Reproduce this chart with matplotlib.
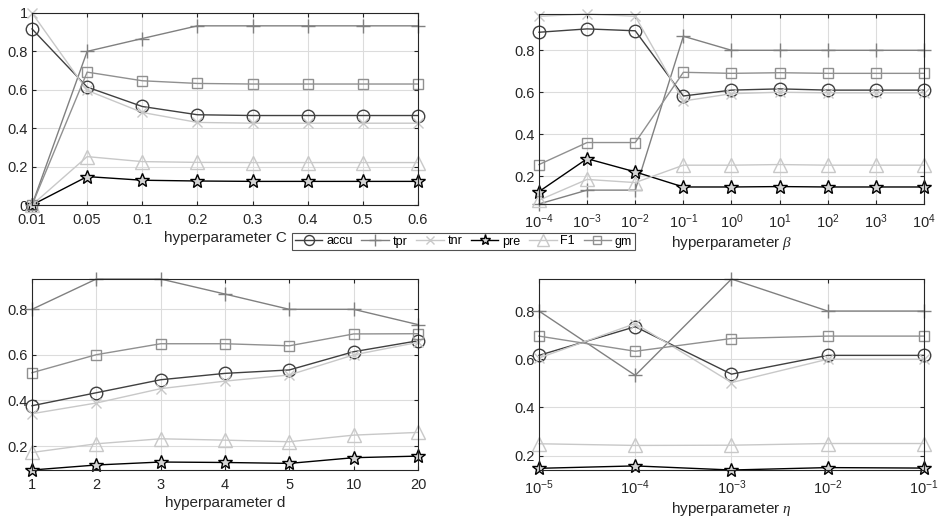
import numpy as np
import matplotlib
matplotlib.use('Agg')
import matplotlib.pyplot as plt

plt.rcParams['font.family'] = ['Liberation Sans', 'DejaVu Sans']
plt.rcParams['mathtext.fontset'] = 'custom'
plt.rcParams['mathtext.rm'] = 'Liberation Sans'
plt.rcParams['mathtext.it'] = 'Liberation Serif:italic'

names = ['accu', 'tpr', 'tnr', 'pre', 'F1', 'gm']

# hyperparameter C
C_labels = ['0.01', '0.05', '0.1', '0.2', '0.3', '0.4', '0.5', '0.6']
C_accu = [0.917, 0.614, 0.513, 0.470, 0.466, 0.466, 0.466, 0.466]
C_tpr = [0.0, 0.800, 0.867, 0.933, 0.933, 0.933, 0.933, 0.933]
C_tnr = [1.0, 0.597, 0.482, 0.430, 0.426, 0.426, 0.426, 0.426]
C_pre = [0.0, 0.148, 0.129, 0.125, 0.123, 0.123, 0.123, 0.123]
C_F1 = [0.0, 0.252, 0.226, 0.222, 0.221, 0.221, 0.221, 0.221]
C_gm = [0.0, 0.692, 0.647, 0.633, 0.630, 0.630, 0.630, 0.630]

# hyperparameter beta
beta = [1e-4, 1e-3, 1e-2, 1e-1, 1e0, 1e1, 1e2, 1e3, 1e4]
b_accu = [0.886, 0.902, 0.893, 0.582, 0.610, 0.616, 0.610, 0.610, 0.610]
b_tpr = [0.067, 0.133, 0.133, 0.867, 0.800, 0.800, 0.800, 0.800, 0.800]
b_tnr = [0.962, 0.973, 0.962, 0.558, 0.593, 0.600, 0.597, 0.597, 0.597]
b_pre = [0.126, 0.283, 0.220, 0.148, 0.148, 0.150, 0.148, 0.148, 0.148]
b_F1 = [0.085, 0.184, 0.169, 0.252, 0.252, 0.255, 0.252, 0.252, 0.252]
b_gm = [0.255, 0.360, 0.360, 0.695, 0.690, 0.693, 0.690, 0.690, 0.690]

# hyperparameter d
d_labels = ['1', '2', '3', '4', '5', '10', '20']
d_accu = [0.377, 0.434, 0.491, 0.519, 0.534, 0.614, 0.662]
d_tpr = [0.800, 0.933, 0.933, 0.867, 0.800, 0.800, 0.733]
d_tnr = [0.342, 0.389, 0.452, 0.485, 0.512, 0.600, 0.655]
d_pre = [0.095, 0.117, 0.130, 0.128, 0.124, 0.149, 0.156]
d_F1 = [0.172, 0.210, 0.232, 0.226, 0.219, 0.248, 0.260]
d_gm = [0.522, 0.601, 0.649, 0.649, 0.640, 0.692, 0.693]

# hyperparameter eta
eta = [1e-5, 1e-4, 1e-3, 1e-2, 1e-1]
e_accu = [0.616, 0.735, 0.538, 0.616, 0.616]
e_tpr = [0.800, 0.533, 0.933, 0.800, 0.800]
e_tnr = [0.605, 0.748, 0.503, 0.600, 0.600]
e_pre = [0.147, 0.157, 0.140, 0.150, 0.148]
e_F1 = [0.249, 0.242, 0.243, 0.250, 0.250]
e_gm = [0.696, 0.633, 0.686, 0.696, 0.696]

styles = [
    dict(color='#404040', marker='o', ms=9, mfc='none'),
    dict(color='#808080', marker='+', ms=10),
    dict(color='#c8c8c8', marker='x', ms=7),
    dict(color='#000000', marker='*', ms=10, mfc='#d4d4d4', mew=1.0),
    dict(color='#c8c8c8', marker='^', ms=10, mfc='none'),
    dict(color='#909090', marker='s', ms=7, mfc='none'),
]

fig = plt.figure(figsize=(9.39, 5.19), dpi=100)
boxes = [
    [0.0341, 0.605, 0.411, 0.370],
    [0.574, 0.607, 0.410, 0.366],
    [0.0341, 0.0944, 0.411, 0.368],
    [0.574, 0.0944, 0.410, 0.368],
]
label_y = [-0.172, -0.205, -0.173, -0.204]
panels = [
    (list(range(len(C_labels))), [C_accu, C_tpr, C_tnr, C_pre, C_F1, C_gm], 'hyperparameter C', False),
    (beta, [b_accu, b_tpr, b_tnr, b_pre, b_F1, b_gm], r'hyperparameter $\beta$', True),
    (list(range(len(d_labels))), [d_accu, d_tpr, d_tnr, d_pre, d_F1, d_gm], 'hyperparameter d', False),
    (eta, [e_accu, e_tpr, e_tnr, e_pre, e_F1, e_gm], r'hyperparameter $\eta$', True),
]

handles = []
for k, (box, (x, series, xlabel, logx)) in enumerate(zip(boxes, panels)):
    ax = fig.add_axes(box)
    for ser, name, st in zip(series, names, styles):
        h, = ax.plot(x, ser, lw=1.0, label=name, clip_on=False, **st)
        if k == 0:
            handles.append(h)
    if logx:
        ax.set_xscale('log')
        ax.set_xticks(x)
        ax.minorticks_off()
    ax.set_xlim(x[0], x[-1])
    allv = np.concatenate([np.asarray(s) for s in series])
    ax.set_ylim(allv.min(), allv.max())
    if k == 0:
        ax.set_xticks(x)
        ax.set_xticklabels(C_labels)
        ax.set_yticks([0, 0.2, 0.4, 0.6, 0.8, 1.0])
        ax.set_yticklabels(['0', '0.2', '0.4', '0.6', '0.8', '1'])
    elif k == 2:
        ax.set_xticks(x)
        ax.set_xticklabels(d_labels)
        ax.set_yticks([0.2, 0.4, 0.6, 0.8])
    else:
        ax.set_yticks([0.2, 0.4, 0.6, 0.8])
    ax.grid(True, color='#dcdcdc', lw=0.8)
    ax.set_axisbelow(True)
    ax.tick_params(direction='in', length=3, labelsize=10.5, colors='#262626',
                   top=True, right=True)
    ax.tick_params(axis='x', pad=6)
    ax.tick_params(axis='y', pad=3)
    for sp in ax.spines.values():
        sp.set_color('#262626')
        sp.set_linewidth(0.8)
    ax.set_xlabel(xlabel, fontsize=11, color='#262626', va='center')
    ax.xaxis.set_label_coords(0.5, label_y[k])

leg = fig.legend(handles, names, ncol=6, loc='center',
                 bbox_to_anchor=(463.5 / 939, 1 - 241.5 / 519),
                 fontsize=9, frameon=True, fancybox=False, handlelength=2.2,
                 handletextpad=0.3, columnspacing=0.7, borderpad=0.2,
                 markerscale=0.8)
leg.get_frame().set_edgecolor('#262626')
leg.get_frame().set_linewidth(0.8)

fig.savefig('out.png', dpi=100)
